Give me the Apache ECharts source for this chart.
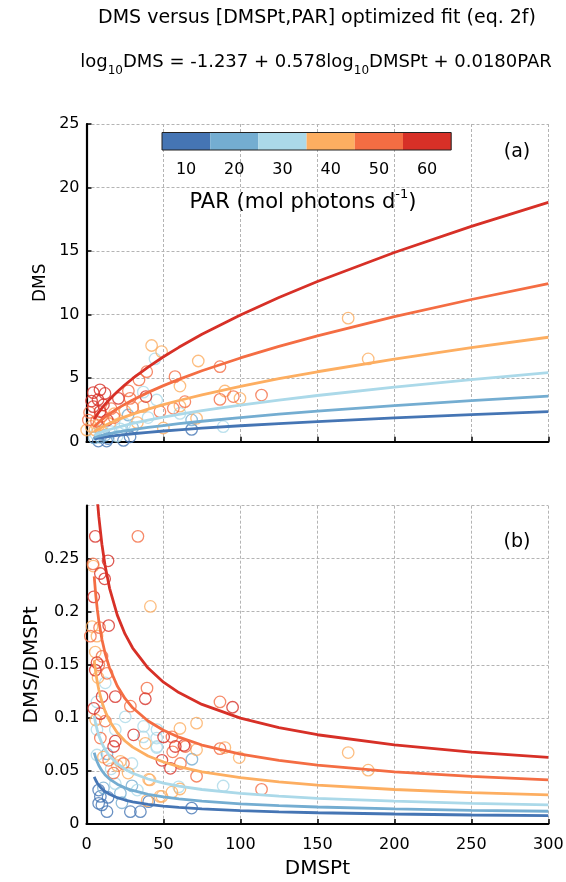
<!DOCTYPE html>
<html>
<head>
<meta charset="utf-8">
<script src="https://cdn.jsdelivr.net/npm/echarts@6/dist/echarts.min.js"></script>
<style>
html, body { margin: 0; padding: 0; background: #fff; }
#chart { width: 566px; height: 882px; }
</style>
</head>
<body>
<div id="chart"></div>
<script>
// PAR classes and their colours (colour bar)
var parLevels = [10, 20, 30, 40, 50, 60];
var parColors = ['#4575b4', '#74add1', '#abd9e9', '#fdae61', '#f46d43', '#d73027'];

// fitted curves at these DMSPt values
var curveX = [5, 6, 7, 8, 10, 12, 15, 20, 25, 30, 40, 50, 60, 75, 100, 125, 150, 200, 250, 300];

// panel (a): DMS of the fit for each PAR class
var fitDms = [
    [0.222, 0.247, 0.270, 0.292, 0.332, 0.369, 0.420, 0.495, 0.564, 0.626, 0.740, 0.841, 0.935, 1.064, 1.256, 1.429, 1.587, 1.875, 2.133, 2.371],
    [0.336, 0.374, 0.409, 0.441, 0.502, 0.558, 0.635, 0.750, 0.853, 0.948, 1.119, 1.273, 1.415, 1.610, 1.900, 2.162, 2.402, 2.837, 3.227, 3.587],
    [0.509, 0.566, 0.619, 0.668, 0.760, 0.845, 0.961, 1.135, 1.291, 1.435, 1.694, 1.927, 2.142, 2.437, 2.877, 3.273, 3.636, 4.295, 4.886, 5.430],
    [0.771, 0.857, 0.936, 1.012, 1.151, 1.279, 1.455, 1.718, 1.955, 2.172, 2.565, 2.918, 3.242, 3.689, 4.355, 4.954, 5.504, 6.502, 7.396, 8.220],
    [1.167, 1.296, 1.417, 1.531, 1.741, 1.935, 2.202, 2.600, 2.958, 3.286, 3.881, 4.415, 4.906, 5.582, 6.590, 7.497, 8.330, 9.839, 11.19, 12.44],
    [1.766, 1.962, 2.145, 2.317, 2.636, 2.929, 3.332, 3.935, 4.477, 4.974, 5.874, 6.682, 7.425, 8.449, 9.974, 11.35, 12.61, 14.89, 16.94, 18.83]
];

// panel (b): DMS/DMSPt of the fit for each PAR class
var fitRatio = [
    [0.0444, 0.0412, 0.0386, 0.0365, 0.0332, 0.0308, 0.0280, 0.0248, 0.0226, 0.0209, 0.0185, 0.0168, 0.0156, 0.0142, 0.0126, 0.0114, 0.0106, 0.0094, 0.0085, 0.0079],
    [0.0672, 0.0623, 0.0584, 0.0551, 0.0502, 0.0465, 0.0423, 0.0375, 0.0341, 0.0316, 0.0280, 0.0255, 0.0236, 0.0215, 0.0190, 0.0173, 0.0160, 0.0142, 0.0129, 0.0120],
    [0.1018, 0.0943, 0.0884, 0.0835, 0.0760, 0.0704, 0.0641, 0.0568, 0.0516, 0.0478, 0.0424, 0.0385, 0.0357, 0.0325, 0.0288, 0.0262, 0.0242, 0.0215, 0.0195, 0.0181],
    [0.1542, 0.1428, 0.1337, 0.1265, 0.1151, 0.1066, 0.0970, 0.0859, 0.0782, 0.0724, 0.0641, 0.0584, 0.0540, 0.0492, 0.0436, 0.0396, 0.0367, 0.0325, 0.0296, 0.0274],
    [0.2334, 0.2160, 0.2024, 0.1914, 0.1741, 0.1613, 0.1468, 0.1300, 0.1183, 0.1095, 0.0970, 0.0883, 0.0818, 0.0744, 0.0659, 0.0600, 0.0555, 0.0492, 0.0448, 0.0415],
    [0.3532, 0.3270, 0.3064, 0.2896, 0.2636, 0.2441, 0.2221, 0.1968, 0.1791, 0.1658, 0.1469, 0.1336, 0.1238, 0.1127, 0.0997, 0.0908, 0.0841, 0.0745, 0.0678, 0.0628]
];

// observations, panel (a): [DMSPt, DMS, PAR class]
var obsTop = [
    [42.3, 7.57, 40], [48.8, 7.09, 40], [44.5, 6.51, 30], [72.6, 6.35, 40], [86.7, 5.9, 50],
    [39.1, 5.51, 50], [34.1, 4.86, 50], [57.5, 5.12, 50], [60.7, 4.38, 40], [27.2, 4.0, 50],
    [36.9, 3.9, 30], [38.6, 3.55, 60], [86.7, 3.33, 50], [95.4, 3.55, 50], [99.7, 3.41, 40],
    [113.7, 3.67, 50], [89.9, 3.99, 40], [45.6, 3.28, 30], [63.9, 3.15, 50], [56.4, 2.63, 50],
    [60.7, 2.8, 40], [47.7, 2.36, 50], [36.9, 2.76, 40], [60.7, 2.23, 30], [68.3, 1.71, 20],
    [71.5, 1.84, 40], [88.8, 1.18, 30], [68.3, 0.97, 10], [49.9, 1.08, 40], [40, 1.9, 30],
    [33, 1.5, 40], [27, 2.1, 20], [28.3, 0.39, 10], [20, 0.45, 30], [13.1, 0.05, 10],
    [7.7, 0.05, 10], [9, 0.35, 20], [170, 9.72, 40], [183, 6.51, 40],
    [8.75, 4.08, 60], [4.4, 3.86, 60], [12, 3.8, 60], [7.5, 3.3, 60], [4.4, 2.76, 60],
    [8.75, 2.37, 60], [3.3, 3.2, 60], [1.2, 1.7, 50], [6.5, 1.6, 50], [15, 1.4, 40],
    [0.1, 0.92, 40], [5.5, 0.92, 40], [13.5, 1.7, 60], [20.7, 3.41, 60], [28.3, 3.41, 50],
    [25, 2.4, 40], [18, 2.2, 40], [2, 2.3, 50], [10, 2.0, 50], [16, 2.6, 50],
    [3, 1.2, 40], [6, 0.6, 30], [10, 0.9, 30], [12, 0.5, 20], [16, 0.8, 30],
    [22, 1.0, 30], [25, 1.4, 30], [30, 1.1, 20], [14, 0.25, 10], [24, 0.1, 10],
    [5, 0.3, 20], [8, 1.3, 40], [18, 1.9, 50], [30, 2.7, 50], [11, 2.9, 60]
];

// observations, panel (b): [DMSPt, DMS/DMSPt, PAR class]
var obsBottom = [
    [5.7, 0.271, 60], [33.4, 0.271, 50], [14.0, 0.248, 60], [4.2, 0.245, 50], [4.4, 0.243, 40],
    [9.0, 0.236, 60], [11.8, 0.231, 60], [4.7, 0.214, 60], [41.5, 0.205, 40], [14.4, 0.187, 60],
    [3.6, 0.186, 40], [8.5, 0.185, 50], [2.5, 0.177, 50], [6.8, 0.177, 40], [5.7, 0.162, 40],
    [10.1, 0.158, 50], [6.8, 0.152, 60], [8.0, 0.150, 50], [5.7, 0.145, 60], [13.3, 0.142, 50],
    [7.5, 0.138, 40], [12.2, 0.133, 30], [39.3, 0.128, 50], [38.2, 0.118, 60], [18.7, 0.120, 60],
    [10.1, 0.120, 60], [6.8, 0.115, 30], [28.5, 0.111, 50], [4.7, 0.109, 60], [9.0, 0.104, 60],
    [25.2, 0.101, 30], [12.2, 0.097, 50], [6.0, 0.098, 40], [6.8, 0.089, 30], [18.7, 0.089, 30],
    [37.1, 0.092, 30], [45.8, 0.089, 30], [50.1, 0.082, 60], [9.0, 0.081, 50], [30.6, 0.084, 60],
    [38.2, 0.076, 40], [45.8, 0.073, 30], [17.6, 0.073, 60], [18.7, 0.078, 60], [55.5, 0.082, 50],
    [57.7, 0.073, 60], [64.2, 0.073, 50], [60.7, 0.090, 40], [71.5, 0.095, 40], [71.5, 0.070, 40],
    [6.8, 0.065, 30], [13.3, 0.066, 20], [14.4, 0.060, 50], [22.0, 0.059, 40], [24.0, 0.057, 50],
    [29.5, 0.057, 30], [49.0, 0.060, 60], [54.5, 0.0525, 60], [61.0, 0.057, 50], [68.5, 0.061, 20],
    [71.5, 0.045, 50], [17.6, 0.048, 50], [27.0, 0.048, 40], [40.4, 0.042, 40], [18.7, 0.038, 30],
    [29.5, 0.036, 20], [33.0, 0.032, 30], [59.9, 0.035, 30], [55.5, 0.030, 40], [49.0, 0.026, 40],
    [7.9, 0.032, 10], [9.0, 0.026, 10], [14.0, 0.025, 10], [7.9, 0.0195, 10], [13.3, 0.0116, 10],
    [28.5, 0.0116, 10], [35.0, 0.0116, 10], [40.4, 0.021, 10], [68.3, 0.015, 10], [22.0, 0.029, 20],
    [11.0, 0.034, 20], [86.7, 0.115, 50], [94.9, 0.110, 60], [86.7, 0.071, 50], [89.9, 0.072, 40],
    [99.2, 0.0626, 40], [88.8, 0.0358, 30], [113.7, 0.0327, 50], [170.0, 0.0673, 40], [183.0, 0.0507, 40],
    [63.3, 0.074, 60], [56.0, 0.068, 50], [41.2, 0.0415, 40], [39.4, 0.022, 40], [47.7, 0.026, 40],
    [60.7, 0.033, 40], [36.9, 0.082, 30], [45.6, 0.081, 30], [45.6, 0.072, 30], [20, 0.055, 40],
    [11, 0.063, 40], [16, 0.052, 30], [23, 0.020, 20], [10, 0.018, 10]
];

var xTicks = { min: 0, max: 300, interval: 50 };

var chart = echarts.init(document.getElementById('chart'));

var fontFam = '"DejaVu Sans", Verdana, sans-serif';
var gridLine = { show: true, lineStyle: { color: '#b4b4b4', type: [3, 2], width: 1 } };
var axLine = { show: true, onZero: false, lineStyle: { color: '#000', width: 2.2 } };
var axTick = { show: true, inside: true, length: 5, lineStyle: { color: '#000', width: 1.5 } };

var series = [];

function $each(arr, fn) {
    for (var i = 0; i < arr.length; i++) fn(i, arr[i]);
}

// scatter: hollow circles, one series per PAR class
function addScatter(points, idx) {
    $each(parLevels, function (k, lev) {
        series.push({
            type: 'scatter',
            xAxisIndex: idx,
            yAxisIndex: idx,
            symbol: 'circle',
            symbolSize: 11.5,
            z: 2,
            silent: true,
            itemStyle: { color: 'rgba(0,0,0,0)', borderColor: parColors[k], borderWidth: 1.3 },
            data: points.filter(function (p) { return p[2] === lev; }).map(function (p) { return [p[0], p[1]]; })
        });
    });
}

// fitted lines
function addLines(values, idx) {
    $each(values, function (k, arr) {
        series.push({
            type: 'line',
            xAxisIndex: idx,
            yAxisIndex: idx,
            showSymbol: false,
            smooth: false,
            clip: true,
            z: 3,
            silent: true,
            lineStyle: { color: parColors[k], width: 2.8 },
            data: curveX.map(function (x, i) { return [x, arr[i]]; })
        });
    });
}

addScatter(obsTop, 0);
addScatter(obsBottom, 1);
addLines(fitDms, 0);
addLines(fitRatio, 1);

// colour bar (drawn as graphic)
var cbLeft = 162, cbTop = 132.5, cbW = 48.2, cbH = 17.5;
var graphics = [];
$each(parColors, function (k, c) {
    graphics.push({ type: 'rect', shape: { x: cbLeft + k * cbW, y: cbTop, width: cbW, height: cbH }, style: { fill: c }, z: 10 });
    graphics.push({
        type: 'text', z: 10,
        style: { x: cbLeft + (k + 0.5) * cbW, y: 170, text: String(parLevels[k]), textAlign: 'center', textVerticalAlign: 'middle', fontSize: 16, fontFamily: fontFam, fill: '#000' }
    });
});
graphics.push({ type: 'rect', shape: { x: cbLeft, y: cbTop, width: cbW * 6, height: cbH }, style: { fill: 'none', stroke: '#222', lineWidth: 1 }, z: 11 });
graphics.push({
    type: 'text', z: 10,
    style: {
        x: 303, y: 203, text: 'PAR (mol photons d{sup|-1})', textAlign: 'center', textVerticalAlign: 'middle',
        fontSize: 21, fontFamily: fontFam, fill: '#000', lineHeight: 30,
        rich: { sup: { fontSize: 13, fontFamily: fontFam, fill: '#000', verticalAlign: 'top', lineHeight: 30 } }
    }
});
// titles
graphics.push({
    type: 'text', z: 10,
    style: { x: 317, y: 18, text: 'DMS versus [DMSPt,PAR] optimized fit (eq. 2f)', textAlign: 'center', textVerticalAlign: 'middle', fontSize: 19, fontFamily: fontFam, fill: '#000' }
});
graphics.push({
    type: 'text', z: 10,
    style: {
        x: 316, y: 62, text: 'log{sub|10}DMS = -1.237 + 0.578log{sub|10}DMSPt + 0.0180PAR', textAlign: 'center', textVerticalAlign: 'middle',
        fontSize: 18, fontFamily: fontFam, fill: '#000', lineHeight: 30,
        rich: { sub: { fontSize: 12, fontFamily: fontFam, fill: '#000', verticalAlign: 'bottom', lineHeight: 30 } }
    }
});
// panel letters
graphics.push({ type: 'text', z: 10, style: { x: 517, y: 152, text: '(a)', textAlign: 'center', textVerticalAlign: 'middle', fontSize: 19, fontFamily: fontFam, fill: '#000' } });
graphics.push({ type: 'text', z: 10, style: { x: 517, y: 542, text: '(b)', textAlign: 'center', textVerticalAlign: 'middle', fontSize: 19, fontFamily: fontFam, fill: '#000' } });

chart.setOption({
    backgroundColor: '#fff',
    animation: false,
    grid: [
        { left: 86.5, right: 17.7, top: 124, height: 317.7, outerBoundsMode: 'none' },
        { left: 86.5, right: 17.7, top: 505.7, height: 318.3, outerBoundsMode: 'none' }
    ],
    xAxis: [
        {
            gridIndex: 0, type: 'value', min: xTicks.min, max: xTicks.max, interval: xTicks.interval,
            axisLine: axLine, axisTick: axTick, splitLine: gridLine, axisLabel: { show: false }
        },
        {
            gridIndex: 1, type: 'value', min: xTicks.min, max: xTicks.max, interval: xTicks.interval,
            axisLine: axLine, axisTick: axTick, splitLine: gridLine,
            axisLabel: { color: '#000', fontSize: 16, fontFamily: fontFam, margin: 13 },
            name: 'DMSPt', nameLocation: 'middle', nameGap: 35, nameMoveOverlap: false,
            nameTextStyle: { color: '#000', fontSize: 20, fontFamily: fontFam }
        }
    ],
    yAxis: [
        {
            gridIndex: 0, type: 'value', min: 0, max: 25, interval: 5,
            axisLine: axLine, axisTick: axTick, splitLine: gridLine,
            axisLabel: { color: '#000', fontSize: 16, fontFamily: fontFam, margin: 7 },
            name: 'DMS', nameLocation: 'middle', nameGap: 37, nameMoveOverlap: false,
            nameTextStyle: { color: '#000', fontSize: 17, fontFamily: fontFam }
        },
        {
            gridIndex: 1, type: 'value', min: 0, max: 0.2999, interval: 0.05,
            axisLine: axLine, axisTick: axTick, splitLine: gridLine,
            axisLabel: { color: '#000', fontSize: 16, fontFamily: fontFam, margin: 7, showMaxLabel: false },
            name: 'DMS/DMSPt', nameLocation: 'middle', nameGap: 45, nameMoveOverlap: false,
            nameTextStyle: { color: '#000', fontSize: 20, fontFamily: fontFam }
        }
    ],
    graphic: graphics,
    series: series
});
</script>
</body>
</html>
